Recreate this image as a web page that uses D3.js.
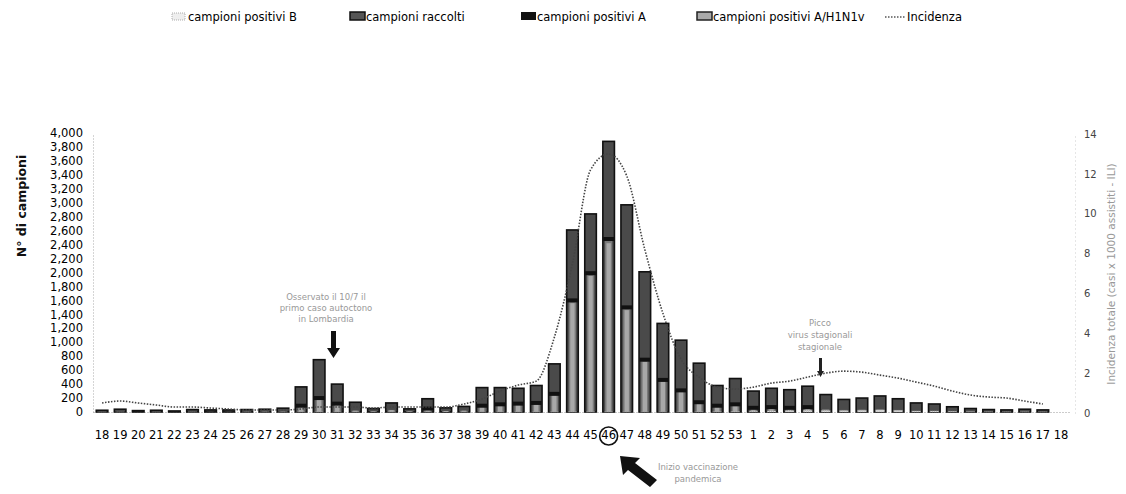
<!DOCTYPE html>
<html>
<head>
<meta charset="utf-8">
<script src="https://cdn.jsdelivr.net/npm/d3@7"></script>
<style>
  body { margin: 0; background: #fff; }
  text { font-family: "DejaVu Sans", sans-serif; }
</style>
</head>
<body>
<div id="chart"></div>
<script>
// settimane (2009-2010)
var weeks = ["18","19","20","21","22","23","24","25","26","27","28","29","30","31","32","33","34","35","36","37","38","39","40","41","42","43","44","45","46","47","48","49","50","51","52","53",
             "1","2","3","4","5","6","7","8","9","10","11","12","13","14","15","16","17","18"];

var raccolti = [25,40,20,25,15,35,30,30,35,40,55,360,750,400,140,50,130,45,190,60,80,350,350,340,380,690,2610,2840,3880,2970,2010,1270,1030,700,380,480,
                300,340,320,370,250,180,200,230,190,130,115,75,50,35,30,40,30,0];
var positiviA = [2,3,1,2,1,3,2,2,3,4,5,90,200,120,20,10,30,10,50,15,20,90,110,120,130,260,1600,1990,2480,1500,750,460,310,140,90,110,
                 60,70,60,70,40,30,35,40,25,15,15,8,5,3,2,3,2,0];
var positiviH1N1 = [0,0,0,0,0,1,1,1,2,3,4,80,180,110,18,9,28,9,45,14,18,85,105,115,125,250,1560,1950,2420,1460,720,440,295,130,80,95,
                    45,50,40,45,25,18,20,22,14,8,8,4,2,1,1,1,1,0];
var positiviB = [1,1,0,1,0,1,0,0,1,1,1,2,3,2,1,0,1,0,1,0,1,1,2,2,3,3,4,3,3,2,2,2,3,4,5,8,
                 10,15,20,25,22,20,25,30,25,15,15,10,6,4,3,4,3,0];
var incidenza = [0.5,0.6,0.5,0.4,0.3,0.3,0.25,0.2,0.15,0.15,0.15,0.2,0.3,0.3,0.3,0.25,0.3,0.3,0.3,0.3,0.45,0.7,1.1,1.4,1.6,3.8,7.5,12.2,13.0,11.9,8.2,5.0,2.7,1.8,1.3,1.2,
                 1.3,1.5,1.6,1.8,2.0,2.1,2.05,1.9,1.75,1.55,1.35,1.1,0.9,0.8,0.75,0.6,0.45,null];
var yTicks = d3.range(0, 4001, 200);
var y2Ticks = [0,2,4,6,8,10,12,14];

var W = 1126, H = 494;
var svg = d3.select("#chart").append("svg")
    .attr("width", W).attr("height", H)
    .attr("viewBox", "0 0 " + W + " " + H);
svg.append("rect").attr("width", W).attr("height", H).attr("fill", "#fff");

var idx = d3.range(weeks.length);
var x = d3.scaleBand().domain(idx).range([93, 1070]).padding(0);
var y = d3.scaleLinear().domain([0, 4000]).range([412, 133]);
var y2 = d3.scaleLinear().domain([0, 14]).range([413, 134]);
var bw = x.bandwidth();

// assi
var gl = svg.append("g").attr("transform", "translate(93,0)")
    .call(d3.axisLeft(y).tickValues(yTicks).tickFormat(d3.format(",")).tickSize(0).tickPadding(10));
gl.select(".domain").attr("stroke", "#aaa").attr("stroke-dasharray", "1,2");
gl.selectAll("text").attr("font-size", 11.5).attr("fill", "#000");

var gr = svg.append("g").attr("transform", "translate(1075,0)")
    .call(d3.axisRight(y2).tickValues(y2Ticks).tickSize(0).tickPadding(9));
gr.select(".domain").attr("stroke", "#ccc").attr("stroke-dasharray", "1,3");
gr.selectAll("text").attr("font-size", 10).attr("fill", "#444");

var gb = svg.append("g").attr("transform", "translate(0,412)")
    .call(d3.axisBottom(x).tickFormat(function (i) { return weeks[i]; }).tickSize(0).tickPadding(19));
gb.select(".domain").attr("stroke", "#999").attr("stroke-dasharray", "1,2");
gb.selectAll("text").attr("font-size", 11.5).attr("fill", "#000");

// barre
var bars = svg.append("g");
bars.selectAll(".racc").data(idx).join("rect")
    .attr("x", function (i) { return x(i) + bw * 0.18; })
    .attr("width", bw * 0.64)
    .attr("y", function (i) { return y(raccolti[i]); })
    .attr("height", function (i) { return y(0) - y(raccolti[i]); })
    .attr("fill", "#4a4a4a").attr("stroke", "#111").attr("stroke-width", 1.6);

bars.selectAll(".posA").data(idx).join("rect")
    .attr("x", function (i) { return x(i) + bw * 0.3; })
    .attr("width", bw * 0.4)
    .attr("y", function (i) { return y(positiviA[i]); })
    .attr("height", function (i) { return y(0) - y(positiviA[i]); })
    .attr("fill", "#7a7a7a");

bars.selectAll(".h1n1").data(idx).join("rect")
    .attr("x", function (i) { return x(i) + bw * 0.38; })
    .attr("width", bw * 0.24)
    .attr("y", function (i) { return y(positiviH1N1[i]); })
    .attr("height", function (i) { return y(0) - y(positiviH1N1[i]); })
    .attr("fill", "#a8a8a8");

bars.selectAll(".capA").data(idx.filter(function (i) { return positiviA[i] > 40; })).join("rect")
    .attr("x", function (i) { return x(i) + bw * 0.2; })
    .attr("width", bw * 0.6)
    .attr("y", function (i) { return y(positiviA[i]) - 2; })
    .attr("height", 4)
    .attr("fill", "#111");

bars.selectAll(".posB").data(idx).join("rect")
    .attr("x", function (i) { return x(i) + bw * 0.25; })
    .attr("width", bw * 0.5)
    .attr("y", function (i) { return y(positiviB[i]); })
    .attr("height", function (i) { return y(0) - y(positiviB[i]); })
    .attr("fill", "#ddd").attr("stroke", "#888").attr("stroke-width", 0.6).attr("stroke-dasharray", "1,1");

// linea incidenza
var line = d3.line()
    .defined(function (i) { return incidenza[i] != null; })
    .x(function (i) { return x(i) + bw / 2; })
    .y(function (i) { return y2(incidenza[i]); })
    .curve(d3.curveMonotoneX);
svg.append("path").attr("d", line(idx))
    .attr("fill", "none").attr("stroke", "#444").attr("stroke-width", 1.6)
    .attr("stroke-dasharray", "1.5,1.5");

// titoli assi
svg.append("text").attr("transform", "translate(26,206) rotate(-90)")
    .attr("text-anchor", "middle").attr("font-size", 12.5).attr("font-weight", "bold")
    .attr("fill", "#111").text("N° di campioni");
svg.append("text").attr("transform", "translate(1115,274) rotate(-90)")
    .attr("text-anchor", "middle").attr("font-size", 10.5)
    .attr("fill", "#999").text("Incidenza totale (casi x 1000 assistiti - ILI)");

// legenda
var legend = [
  { label: "campioni positivi B", x: 172, type: "B" },
  { label: "campioni raccolti", x: 350, type: "racc" },
  { label: "campioni positivi A", x: 521, type: "A" },
  { label: "campioni positivi A/H1N1v", x: 697, type: "h1n1" },
  { label: "Incidenza", x: 885, type: "line" }
];
var lg = svg.append("g").selectAll("g").data(legend).join("g")
    .attr("transform", function (d) { return "translate(" + d.x + ",0)"; });
lg.each(function (d) {
  var g = d3.select(this);
  if (d.type == "line") {
    g.append("line").attr("x1", 0).attr("x2", 20).attr("y1", 17).attr("y2", 17)
     .attr("stroke", "#555").attr("stroke-width", 1.3).attr("stroke-dasharray", "1.5,1.5");
  } else if (d.type == "A") {
    g.append("rect").attr("x", 0).attr("y", 12).attr("width", 15).attr("height", 8).attr("fill", "#111");
  } else if (d.type == "racc") {
    g.append("rect").attr("x", 0).attr("y", 12).attr("width", 15).attr("height", 8)
     .attr("fill", "#555").attr("stroke", "#111").attr("stroke-width", 1.5);
  } else if (d.type == "h1n1") {
    g.append("rect").attr("x", 0).attr("y", 12).attr("width", 15).attr("height", 8)
     .attr("fill", "#aaa").attr("stroke", "#222").attr("stroke-width", 1.5);
  } else {
    g.append("rect").attr("x", 0).attr("y", 13).attr("width", 13).attr("height", 7)
     .attr("fill", "#eee").attr("stroke", "#999").attr("stroke-width", 0.8).attr("stroke-dasharray", "1,1");
  }
  g.append("text").attr("x", d.type == "line" ? 22 : 16).attr("y", 21)
   .attr("font-size", 11.5).attr("fill", "#000").text(d.label);
});

// annotazioni
var ann = svg.append("g").attr("fill", "#999").attr("font-size", 8.5).attr("text-anchor", "middle");
ann.append("text").attr("x", 326).attr("y", 300).text("Osservato il 10/7 il");
ann.append("text").attr("x", 326).attr("y", 311).text("primo caso autoctono");
ann.append("text").attr("x", 326).attr("y", 322).text("in Lombardia");
ann.append("text").attr("x", 820).attr("y", 326).text("Picco");
ann.append("text").attr("x", 820).attr("y", 338).text("virus stagionali");
ann.append("text").attr("x", 820).attr("y", 350).text("stagionale");
ann.append("text").attr("x", 698).attr("y", 470).text("Inizio vaccinazione");
ann.append("text").attr("x", 698).attr("y", 482).text("pandemica");

// frecce
svg.append("path").attr("d", "M331,331 L336,331 L336,348 L340,348 L333.5,358 L327,348 L331,348 Z").attr("fill", "#111");
svg.append("path").attr("d", "M819,358 L822,358 L822,371 L824,371 L820.5,377 L817,371 L819,371 Z").attr("fill", "#222");
svg.append("path").attr("d", "M620,456 L640,458 L635,463 L657,480 L650,487 L628,470 L623,475 Z").attr("fill", "#111");

// cerchio settimana 46
svg.append("circle").attr("cx", x(28) + bw / 2).attr("cy", 436).attr("r", 9)
    .attr("fill", "none").attr("stroke", "#111").attr("stroke-width", 1.6);
</script>
</body>
</html>
